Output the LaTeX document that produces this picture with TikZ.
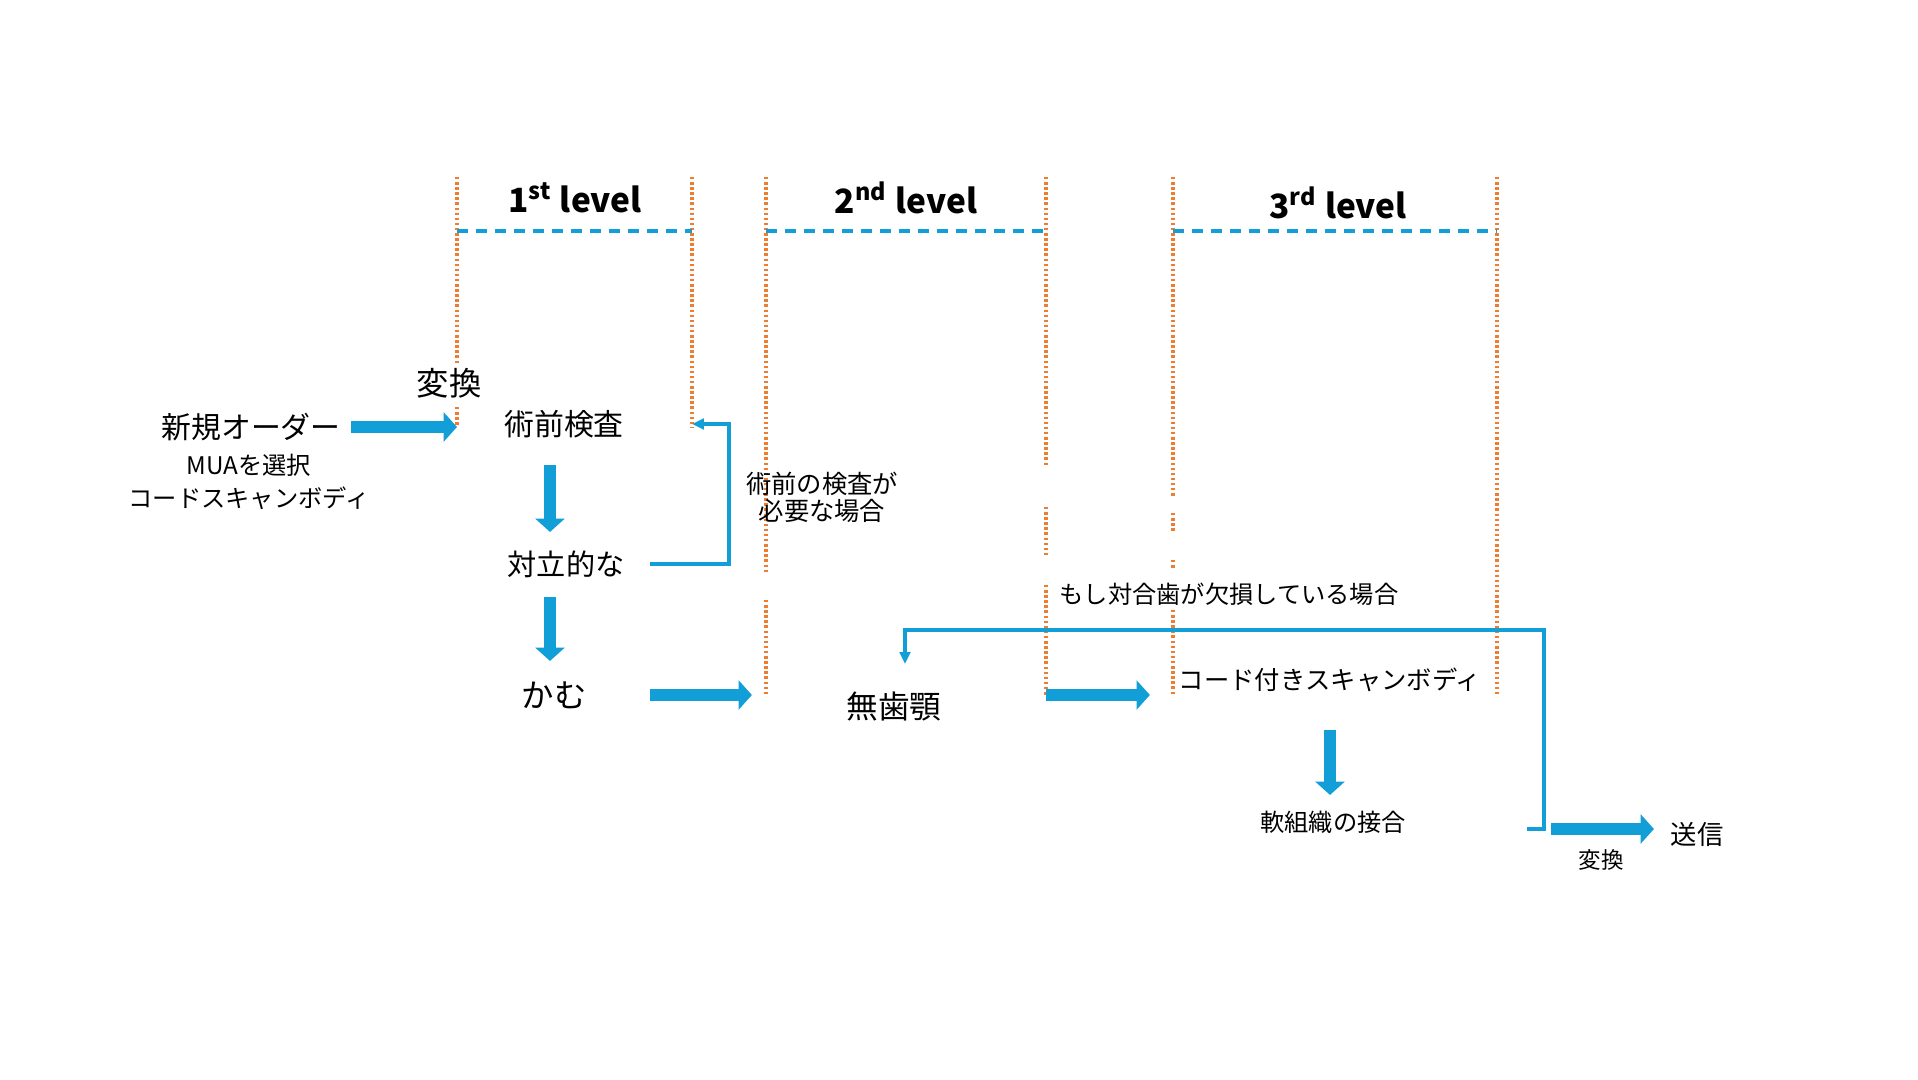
\documentclass[tikz,border=0pt]{standalone}
\usepackage{fontspec}
\setmainfont{Noto Sans CJK JP}
\usepackage{xcolor}
\usepackage{tikz}
\usetikzlibrary{arrows.meta,positioning,calc}
\definecolor{flowblue}{RGB}{18,159,215}
\definecolor{laneorange}{RGB}{237,125,49}

\begin{document}
\begin{tikzpicture}[
  x=0.01cm, y=-0.01cm,
  every node/.style={inner sep=0pt, align=center},
  lane/.style={laneorange, line width=1pt, dash pattern=on 0.7pt off 0.75pt},
  band/.style={flowblue, line width=1pt, dash pattern=on 3.2pt off 2.2pt},
  bigarrow/.style={flowblue, line width=3.6pt, -{Triangle[length=3.8pt, width=8.2pt]}},
  flow/.style={flowblue, line width=0.9pt, -{Triangle[length=3.4pt, width=3pt]}},
  lvl/.style={font=\fontsize{9.5}{11}\selectfont\bfseries}
]
  \useasboundingbox (0,0) rectangle (1918,1080);

  \coordinate (l1) at (457,177);
  \coordinate (l2) at (692,177);
  \coordinate (col) at (550,0);
  \coordinate (loopa) at (729,0);
  \coordinate (turn) at (1544,829);
  \coordinate (top) at (1544,630);

  \foreach \x/\ya/\yb in {457/177/365, 457/407/427, 692/177/427, 766/177/573, 766/600/695,
      1046/177/467, 1046/507/555, 1046/585/695, 1173/177/497, 1173/513/532,
      1173/560/570, 1173/610/695, 1497/177/695}
    \draw[lane] (\x,\ya) -- (\x,\yb);

  \draw[band] (457,231) -- (692,231);
  \draw[band] (766,231) -- (1046,231);
  \draw[band] (1173,231) -- (1497,231);

  \node[lvl] (lv1) at (575,198) {1\textsuperscript{st} level};
  \node[lvl] (lv2) at (906,198) {2\textsuperscript{nd} level};
  \node[lvl] (lv3) at (1338,203) {3\textsuperscript{rd} level};

  \node[font=\fontsize{8.5}{10}\selectfont] (neworder) at (251,427) {新規オーダー};
  \node[font=\fontsize{6.9}{9.4}\selectfont] (muasel) at (249,482) {MUAを選択\\コードスキャンボディ};
  \node[font=\fontsize{9.2}{11}\selectfont] (conv1) at (449,383) {変換};
  \node[font=\fontsize{8.5}{10}\selectfont] (preop) at (564,424) {術前検査};
  \node[font=\fontsize{8.3}{10}\selectfont] (opposing) at (566,564) {対立的な};
  \node[font=\fontsize{9.2}{11}\selectfont] (bite) at (554,695) {かむ};
  \node[font=\fontsize{7.2}{7.7}\selectfont] (ifneed) at (822,497) {術前の検査が\\必要な場合};
  \node[font=\fontsize{6.9}{8}\selectfont] (ifmissing) at (1229,594) {もし対合歯が欠損している場合};
  \node[font=\fontsize{9}{11}\selectfont] (edent) at (894,707) {無歯顎};
  \node[font=\fontsize{7.2}{9}\selectfont] (codescan) at (1330,680) {コード付きスキャンボディ};
  \node[font=\fontsize{6.9}{8}\selectfont] (softjoin) at (1333,822) {軟組織の接合};
  \node[font=\fontsize{7.5}{9}\selectfont] (send) at (1697,834) {送信};
  \node[font=\fontsize{6.4}{8}\selectfont] (conv2) at (1601,860) {変換};

  \draw[bigarrow, shorten <=10mm] (neworder.center) -- (neworder.center -| l1);
  \draw[bigarrow, shorten <=4.1mm, shorten >=3.2mm] (preop.center -| col) -- (opposing.center -| col);
  \draw[bigarrow, shorten <=3.3mm, shorten >=3.4mm] (opposing.center -| col) -- (bite.center -| col);
  \draw[bigarrow, shorten <=9.6mm, shorten >=14.2mm] (bite.center) -- (bite.center -| edent);
  \draw[bigarrow, shorten <=15.2mm, shorten >=18mm] (bite.center -| edent) -- (bite.center -| codescan);
  \draw[bigarrow, shorten <=5mm, shorten >=2.7mm] (codescan.center) -- (codescan.center |- softjoin.center);
  \draw[bigarrow, shorten <=0.7mm, shorten >=4.3mm] (turn) -- (turn -| send);

  \draw[flow, shorten <=8.4mm] (opposing.center) -- (opposing.center -| loopa) -- (preop.center -| loopa) -- (preop.center -| l2);
  \draw[flow] ([xshift=-1.7mm]turn) -- (turn) -- (top) -| ([xshift=1.1mm, yshift=4.3mm]edent.center);
\end{tikzpicture}
\end{document}
